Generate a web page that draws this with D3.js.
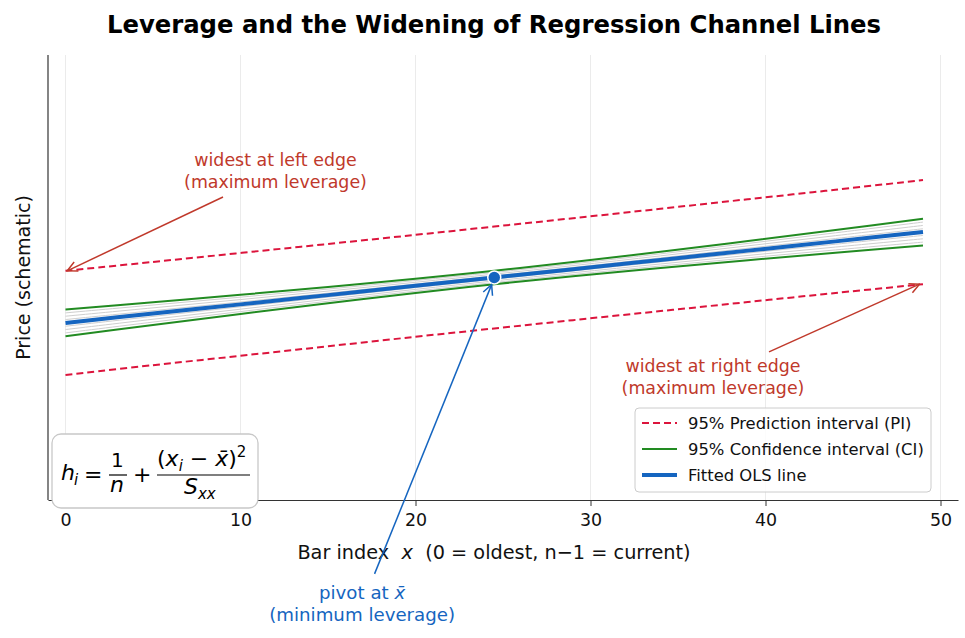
<!DOCTYPE html>
<html>
<head>
<meta charset="utf-8">
<script src="https://cdn.jsdelivr.net/npm/d3@7"></script>
<style>
  body { margin: 0; background: #fff; }
  svg { font-family: "DejaVu Sans", sans-serif; }
</style>
</head>
<body>
<div id="chart"></div>
<script>
// bar index samples (symmetric round the pivot x-bar = 24.5)
var barIdx   = [0, 5, 10, 15, 20, 24.5, 29, 34, 39, 44, 49];
// fitted OLS line (schematic price)
var fitted   = [39.8, 41.9, 43.96, 46.04, 48.13, 50.0, 51.87, 53.95, 56.04, 58.12, 60.2];
// half widths of the bands
var ciHalf   = [3.0, 2.56, 2.16, 1.82, 1.60, 1.52, 1.60, 1.82, 2.16, 2.56, 3.0];
var piHalf   = [11.7, 11.6, 11.55, 11.5, 11.45, 11.45, 11.45, 11.5, 11.55, 11.6, 11.7];
// light fan lines inside the CI, as fractions of the CI half width
var fanLevels = [-0.75, -0.5, -0.25, 0.25, 0.5, 0.75];
var xTicks   = [0, 10, 20, 30, 40, 50];
var pivot    = {x: 24.5, y: 50.0};

var width = 965, height = 638;
var margin = {top: 55, right: 7, bottom: 138, left: 48};

var svg = d3.select("#chart").append("svg")
    .attr("width", width)
    .attr("height", height);

var x = d3.scaleLinear().domain([-1, 51]).range([margin.left, width - margin.right]);
var y = d3.scaleLinear().domain([0, 100]).range([height - margin.bottom, margin.top]);

var red = "#c0392b", blue = "#1565c0", green = "#228b22", crimson = "#dc143c";

var pts = barIdx.map(function(d, i) {
  return {x: d, fit: fitted[i], ci: ciHalf[i], pi: piHalf[i]};
});

// grid
svg.append("g").selectAll("line")
    .data(xTicks)
  .enter().append("line")
    .attr("x1", function(d) { return x(d); })
    .attr("x2", function(d) { return x(d); })
    .attr("y1", margin.top)
    .attr("y2", height - margin.bottom)
    .attr("stroke", "#ebebeb")
    .attr("stroke-width", 1);

function bandLine(k, key) {
  return d3.line()
      .x(function(d) { return x(d.x); })
      .y(function(d) { return y(d.fit + k * d[key]); })
      .curve(d3.curveCatmullRom);
}

// fan lines inside CI
svg.append("g").selectAll("path")
    .data(fanLevels)
  .enter().append("path")
    .attr("d", function(k) { return bandLine(k, "ci")(pts); })
    .attr("fill", "none")
    .attr("stroke", "#cfcfcf")
    .attr("stroke-width", 1);

// prediction interval
[1, -1].forEach(function(k) {
  svg.append("path")
      .attr("d", bandLine(k, "pi")(pts))
      .attr("fill", "none")
      .attr("stroke", crimson)
      .attr("stroke-width", 2)
      .attr("stroke-dasharray", "7,4");
});

// confidence interval
[1, -1].forEach(function(k) {
  svg.append("path")
      .attr("d", bandLine(k, "ci")(pts))
      .attr("fill", "none")
      .attr("stroke", green)
      .attr("stroke-width", 2);
});

// fitted line
svg.append("path")
    .attr("d", bandLine(0, "ci")(pts))
    .attr("fill", "none")
    .attr("stroke", blue)
    .attr("stroke-width", 4);

svg.append("circle")
    .attr("cx", x(pivot.x))
    .attr("cy", y(pivot.y))
    .attr("r", 6.5)
    .attr("fill", blue)
    .attr("stroke", "#fff")
    .attr("stroke-width", 1.5);

// axes
var xAxis = svg.append("g")
    .attr("transform", "translate(0," + (height - margin.bottom) + ")")
    .call(d3.axisBottom(x).tickValues(xTicks).tickSize(6).tickPadding(8).tickSizeOuter(0));
xAxis.select(".domain").attr("stroke", "#333").attr("stroke-width", 1.2);
xAxis.selectAll(".tick line").attr("stroke", "#333");
xAxis.selectAll("text").attr("font-size", 17.4).attr("fill", "#111")
    .attr("font-family", "DejaVu Sans");

svg.append("line")
    .attr("x1", margin.left).attr("x2", margin.left)
    .attr("y1", margin.top).attr("y2", height - margin.bottom)
    .attr("stroke", "#333").attr("stroke-width", 1.2);

// axis labels
var xl = svg.append("text")
    .attr("x", 494).attr("y", 559)
    .attr("text-anchor", "middle")
    .attr("font-size", 19.3)
    .attr("fill", "#111")
    .attr("xml:space", "preserve");
xl.append("tspan").text("Bar index  ");
xl.append("tspan").attr("font-style", "italic").text("x");
xl.append("tspan").text("  (0 = oldest, n\u22121 = current)");

svg.append("text")
    .attr("transform", "translate(30," + y(50) + ")rotate(-90)")
    .attr("text-anchor", "middle")
    .attr("font-size", 19)
    .attr("fill", "#111")
    .text("Price (schematic)");

svg.append("text")
    .attr("x", 494).attr("y", 33)
    .attr("text-anchor", "middle")
    .attr("font-size", 24.3)
    .attr("font-weight", "bold")
    .attr("fill", "#000")
    .text("Leverage and the Widening of Regression Channel Lines");

// arrows
var defs = svg.append("defs");
[["headRed", red], ["headBlue", blue]].forEach(function(m) {
  defs.append("marker")
      .attr("id", m[0])
      .attr("viewBox", "0 0 12 12")
      .attr("refX", 11).attr("refY", 6)
      .attr("markerWidth", 12).attr("markerHeight", 12)
      .attr("markerUnits", "userSpaceOnUse")
      .attr("orient", "auto")
    .append("path")
      .attr("d", "M1,1L11,6L1,11")
      .attr("fill", "none")
      .attr("stroke", m[1])
      .attr("stroke-width", 1.5);
});

function arrow(from, to, color, head) {
  svg.append("line")
      .attr("x1", x(from[0])).attr("y1", y(from[1]))
      .attr("x2", x(to[0])).attr("y2", y(to[1]))
      .attr("stroke", color)
      .attr("stroke-width", 1.5)
      .attr("marker-end", "url(#" + head + ")");
}

function note(px, py, lines, color, size) {
  var t = svg.append("text")
      .attr("text-anchor", "middle")
      .attr("font-size", size || 17.4)
      .attr("fill", color);
  lines.forEach(function(l, i) {
    t.append("tspan").attr("x", x(px)).attr("y", y(py) + i * 22).text(l);
  });
  return t;
}

arrow([9.0, 68.1], [0.1, fitted[0] + piHalf[0]], red, "headRed");
note(12, 75.0, ["widest at left edge", "(maximum leverage)"], red);

arrow([40.2, 33.3], [48.8, fitted[10] - piHalf[10]], red, "headRed");
note(37, 28.8, ["widest at right edge", "(maximum leverage)"], red);

arrow([17.66, -16.6], [24.35, 48.4], blue, "headBlue");
var pv = note(16.95, -22.3, ["", "(minimum leverage)"], blue, 18.2);
pv.select("tspan").text("pivot at ");
pv.select("tspan").append("tspan").attr("font-style", "italic").text("x\u0304");

// legend
var lg = svg.append("g").attr("transform", "translate(635,408)");
lg.append("rect")
    .attr("width", 296).attr("height", 84)
    .attr("rx", 4)
    .attr("fill", "#fff").attr("fill-opacity", 0.85)
    .attr("stroke", "#ccc");
var legendItems = [
  {label: "95% Prediction interval (PI)", color: crimson, w: 2, dash: "7,4"},
  {label: "95% Confidence interval (CI)", color: green, w: 2, dash: null},
  {label: "Fitted OLS line", color: blue, w: 4, dash: null}
];
legendItems.forEach(function(d, i) {
  var yy = 15 + i * 26;
  lg.append("line")
      .attr("x1", 7).attr("x2", 42).attr("y1", yy).attr("y2", yy)
      .attr("stroke", d.color).attr("stroke-width", d.w)
      .attr("stroke-dasharray", d.dash);
  lg.append("text")
      .attr("x", 53).attr("y", yy + 6)
      .attr("font-size", 16.4)
      .attr("fill", "#111")
      .text(d.label);
});

// leverage formula box
var fb = svg.append("g");
fb.append("rect")
    .attr("x", 52).attr("y", 434).attr("width", 206).attr("height", 74)
    .attr("rx", 9)
    .attr("fill", "#fff")
    .attr("stroke", "#c8c8c8")
    .attr("stroke-width", 1.3);
var mt = function(tx, ty, s, size, italic) {
  return fb.append("text")
      .attr("x", tx).attr("y", ty)
      .attr("font-size", size)
      .attr("font-style", italic ? "italic" : "normal")
      .attr("fill", "#000")
      .text(s);
};
mt(61, 480, "h", 22, true);
mt(74, 485, "i", 15, true);
mt(84, 482, "=", 22, false);
mt(111, 467, "1", 20, false);
fb.append("line").attr("x1", 109).attr("x2", 127).attr("y1", 475).attr("y2", 475)
    .attr("stroke", "#000").attr("stroke-width", 1.2);
mt(110, 492, "n", 22, true);
mt(133, 482, "+", 22, false);
var num = fb.append("text").attr("x", 157).attr("y", 466).attr("font-size", 22).attr("fill", "#000");
num.append("tspan").text("(");
num.append("tspan").attr("font-style", "italic").text("x");
num.append("tspan").attr("font-style", "italic").attr("font-size", 15).attr("dy", 5).text("i");
num.append("tspan").attr("dy", -5).text(" \u2212 ");
num.append("tspan").attr("font-style", "italic").text("x\u0304");
num.append("tspan").text(")");
num.append("tspan").attr("font-size", 15).attr("dy", -9).text("2");
fb.append("line").attr("x1", 157).attr("x2", 250).attr("y1", 475).attr("y2", 475)
    .attr("stroke", "#000").attr("stroke-width", 1.2);
var den = fb.append("text").attr("x", 184).attr("y", 494).attr("font-size", 22).attr("fill", "#000")
    .attr("font-style", "italic");
den.append("tspan").text("S");
den.append("tspan").attr("font-size", 15).attr("dy", 5).text("xx");
</script>
</body>
</html>
